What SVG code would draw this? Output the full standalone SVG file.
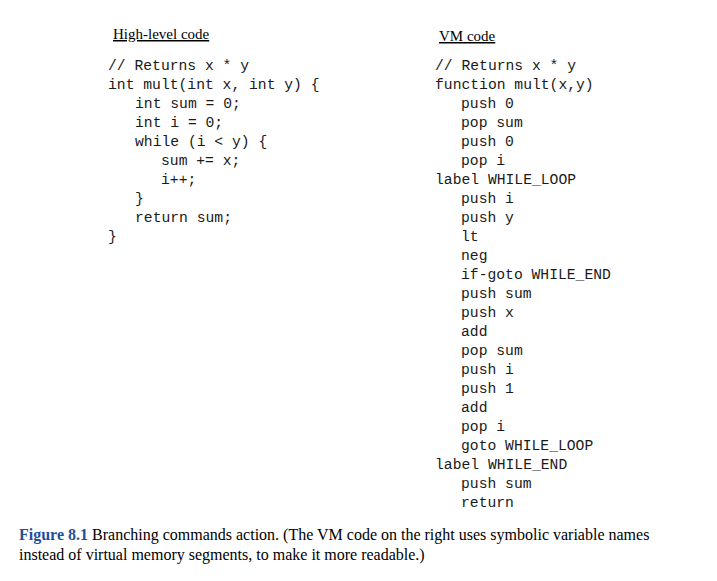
<svg xmlns="http://www.w3.org/2000/svg" width="717" height="581" viewBox="0 0 717 581">
<style>
.c{font-family:"Liberation Mono","DejaVu Sans Mono",monospace;font-size:14.7px;fill:#1a1a1a;white-space:pre}
.h{font-family:"Liberation Serif",serif;font-size:15px;fill:#000;text-decoration:underline}
.cap{font-family:"Liberation Serif",serif;font-size:16px;fill:#000}
</style>
<rect width="717" height="581" fill="#fff"/>
<g id="left">
<text class="h" x="113" y="39">High-level code</text>
<text class="c" x="108" y="70">// Returns x * y</text>
<text class="c" x="108" y="89">int mult(int x, int y) {</text>
<text class="c" x="135" y="108">int sum = 0;</text>
<text class="c" x="135" y="127">int i = 0;</text>
<text class="c" x="135" y="146">while (i &lt; y) {</text>
<text class="c" x="161" y="165">sum += x;</text>
<text class="c" x="161" y="184">i++;</text>
<text class="c" x="135" y="203">}</text>
<text class="c" x="135" y="222">return sum;</text>
<text class="c" x="108" y="241">}</text>
</g>
<g id="right">
<text class="h" x="439" y="41">VM code</text>
<text class="c" x="435" y="70">// Returns x * y</text>
<text class="c" x="435" y="89">function mult(x,y)</text>
<text class="c" x="461" y="108">push 0</text>
<text class="c" x="461" y="127">pop sum</text>
<text class="c" x="461" y="146">push 0</text>
<text class="c" x="461" y="165">pop i</text>
<text class="c" x="435" y="184">label WHILE_LOOP</text>
<text class="c" x="461" y="203">push i</text>
<text class="c" x="461" y="222">push y</text>
<text class="c" x="461" y="241">lt</text>
<text class="c" x="461" y="260">neg</text>
<text class="c" x="461" y="279">if-goto WHILE_END</text>
<text class="c" x="461" y="298">push sum</text>
<text class="c" x="461" y="317">push x</text>
<text class="c" x="461" y="336">add</text>
<text class="c" x="461" y="355">pop sum</text>
<text class="c" x="461" y="374">push i</text>
<text class="c" x="461" y="393">push 1</text>
<text class="c" x="461" y="412">add</text>
<text class="c" x="461" y="431">pop i</text>
<text class="c" x="461" y="450">goto WHILE_LOOP</text>
<text class="c" x="435" y="469">label WHILE_END</text>
<text class="c" x="461" y="488">push sum</text>
<text class="c" x="461" y="507">return</text>
</g>
<g id="caption">
<text class="cap" x="19" y="540"><tspan font-weight="bold" fill="#1f4e9e">Figure 8.1</tspan>    Branching commands action. (The VM code on the right uses symbolic variable names</text>
<text class="cap" x="19" y="560">instead of virtual memory segments, to make it more readable.)</text>
</g>
</svg>
